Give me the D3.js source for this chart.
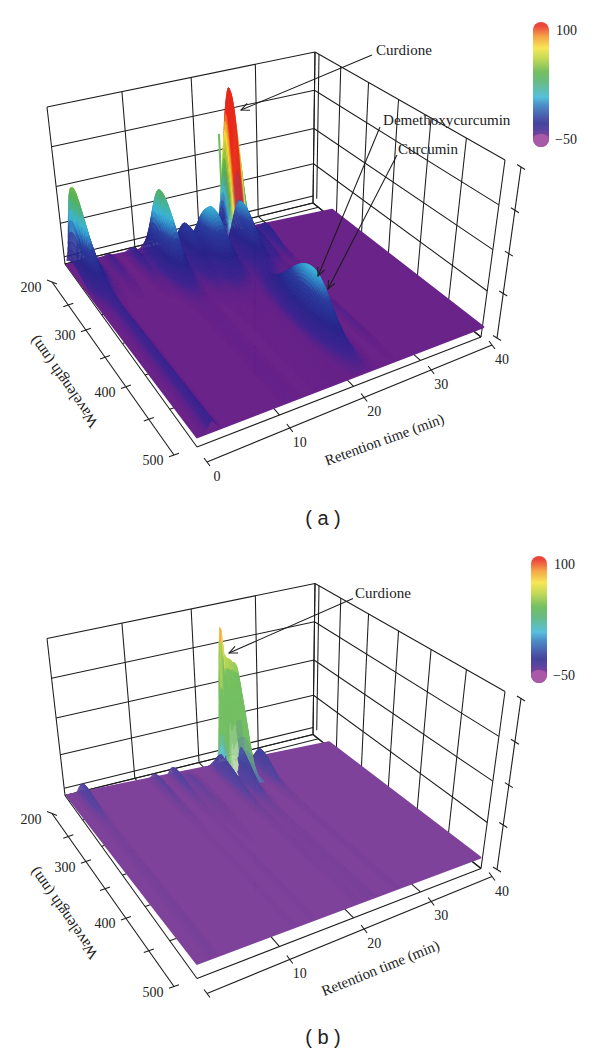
<!DOCTYPE html>
<html>
<head>
<meta charset="utf-8">
<script src="https://cdn.jsdelivr.net/npm/d3@7"></script>
<style>
  body { margin: 0; background: #fff; }
  svg { display: block; }
  text { font-family: "Liberation Serif", serif; fill: #222; }
</style>
</head>
<body>
<svg id="chart" width="600" height="1054"></svg>
<script>
// axis values
const timeGrid = [0, 10, 20, 30, 40]
const wavelengthGrid = [200, 250, 300, 350, 400, 450, 500]
const wavelengthLabels = [200, 300, 400, 500]
const valueGrid = [-50, -11, 24, 62, 100]
const colorbarLabels = [100, -50]

// colour bar stops, value -> colour, and where each sits down the bar
const colorValues = [-40, -34, -22, -6, 2, 10, 26, 36, 50, 64, 76, 88]
const colorStops = ['#6a2389', '#3d2590', '#27268c', '#2c3f9f', '#2f7fc0', '#3cb6d8', '#4fb070', '#5cb548', '#b4d03c', '#f4e33a', '#f59a2a', '#e8281c']
const colorbarOffsets = [0.92, 0.86, 0.81, 0.76, 0.66, 0.6, 0.48, 0.4, 0.3, 0.21, 0.12, 0.03]

// peaks of panel a
const aTime = [0.9, 1.6, 1.5, 10.8, 14, 15.7, 16.9, 21.7, 21.4, 24, 26.1, 20.2, 25, 5, 8, 10]
const aWavelength = [212, 225, 225, 235, 232, 240, 250, 222, 245, 240, 232, 410, 400, 215, 215, 215]
const aHeight = [62, 8, 24, 68, 30, 14, 48, 148, 46, 14, 14, 50, 3, 5, 8, 6]
const aTimeWidth = [0.4, 0.4, 0.9, 0.85, 0.7, 0.5, 1.1, 1, 0.95, 0.7, 0.4, 0.85, 0.35, 0.4, 0.4, 0.4]
const aWlAfter = [30, 30, 26, 30, 34, 34, 28, 9, 30, 30, 30, 34, 40, 30, 30, 30]
const aWlBefore = [12, 20, 14, 16, 14, 14, 16, 10, 14, 14, 12, 45, 30, 12, 12, 12]
const aTail = [0, 1, 0, 0.008, 0.008, 0.008, 0.008, 0, 0.008, 0.008, 0, 0, 0, 0, 0, 0]
const aHold = [7]
const aSpikeTime = [20]
const aSpikeWavelength = [222]
const aSpikeHeight = [105]

// peaks of panel b
const bTime = [1.8, 11.3, 13.8, 20, 20.65, 20.9, 21.9, 22.9, 23.6, 21.8, 25.7, 15.5]
const bWavelength = [212, 212, 212, 222, 222, 222, 222, 222, 222, 235, 230, 225]
const bHeight = [12, 6, 10, 18, 58, 90, 95, 78, 34, 32, 20, 4]
const bTimeWidth = [0.35, 0.35, 0.3, 0.4, 0.1, 0.45, 0.55, 0.45, 0.3, 0.5, 0.4, 0.6]
const bWlAfter = [28, 40, 30, 40, 10, 10, 12, 12, 14, 28, 26, 45]
const bWlBefore = [12, 12, 12, 12, 8, 8, 10, 10, 10, 12, 12, 12]
const bTail = [0.1, 0.05, 0.05, 0.04, 0, 0, 0, 0, 0, 0.03, 0.03, 0.04]
const bHold = [4, 5, 6, 7, 8]

const floorQuad = [[65, 264], [313, 203], [481, 337], [197, 447]]
const topQuad = [[47, 107], [315, 52], [505, 160], [189, 257]]
const wlAxisEnds = [[52, 282], [174, 455]]
const timeAxisEnds = [[207, 462], [492, 345]]
const valueAxisEnds = [[497, 338], [521, 167]]

const svg = d3.select('#chart')
const defs = svg.append('defs')
const uScale = d3.scaleLinear().domain([0, 40]).range([0, 1])
const vScale = d3.scaleLinear().domain([200, 500]).range([0, 1])
const zScale = d3.scaleLinear().domain([-50, 100]).range([0, 1])
const baseValue = -40

const lineGen = d3.line()

// unit square to quad (perspective)
const quadMap = (q) => {
  const [[x0, y0], [x1, y1], [x2, y2], [x3, y3]] = q
  const sx = x0 - x1 + x2 - x3, sy = y0 - y1 + y2 - y3
  const dx1 = x1 - x2, dx2 = x3 - x2, dy1 = y1 - y2, dy2 = y3 - y2
  const det = dx1 * dy2 - dx2 * dy1
  const g = (sx * dy2 - dx2 * sy) / det
  const h = (dx1 * sy - sx * dy1) / det
  const a = x1 - x0 + g * x1, b = x3 - x0 + h * x3
  const d = y1 - y0 + g * y1, e = y3 - y0 + h * y3
  return (u, v) => {
    const w = g * u + h * v + 1
    return [(a * u + b * v + x0) / w, (d * u + e * v + y0) / w]
  }
}

const floorAt = quadMap(floorQuad)
const topAt = quadMap(topQuad)
const boxPoint = (t, wl, val) => {
  const f = floorAt(uScale(t), vScale(wl))
  const p = topAt(uScale(t), vScale(wl))
  const z = zScale(val)
  return [f[0] + (p[0] - f[0]) * z, f[1] + (p[1] - f[1]) * z]
}

const lerp = (a, b, f) => [a[0] + (b[0] - a[0]) * f, a[1] + (b[1] - a[1]) * f]
// how far along an edge of the floor a value sits, perspective included
const edgeFraction = (start, end, p) => Math.hypot(p[0] - start[0], p[1] - start[1]) / Math.hypot(end[0] - start[0], end[1] - start[1])

const colorScale = d3.scaleLinear().domain(colorValues).range(colorStops).interpolate(d3.interpolateRgb).clamp(true)

const drawBox = (g) => {
  const frame = g.append('g').attr('fill', 'none').attr('stroke', '#1c1c1c').attr('stroke-width', 1.05)
  const seg = (a, b) => frame.append('path').attr('d', lineGen([a, b]))

  valueGrid.forEach(val => {
    seg(boxPoint(0, 200, val), boxPoint(40, 200, val))
    seg(boxPoint(40, 200, val), boxPoint(40, 500, val))
  })
  timeGrid.forEach(t => {
    seg(boxPoint(t, 200, -50), boxPoint(t, 200, 100))
    seg(boxPoint(t, 200, -50), boxPoint(t, 500, -50))
  })
  wavelengthGrid.forEach(wl => {
    seg(boxPoint(40, wl, -50), boxPoint(40, wl, 100))
    seg(boxPoint(0, wl, -50), boxPoint(40, wl, -50))
  })
  // second lines just in front of the back corner
  seg(boxPoint(40, 208, -43), boxPoint(40, 208, 100))
  seg(boxPoint(0, 200, -43), boxPoint(40, 200, -43))
  seg(boxPoint(0, 212, -50), boxPoint(40, 212, -50))
}

const drawAxes = (g, timeLabels, timeTitle) => {
  const ax = g.append('g').attr('fill', 'none').attr('stroke', '#1c1c1c').attr('stroke-width', 1.1)
  const seg = (a, b) => ax.append('path').attr('d', lineGen([a, b]))
  seg(wlAxisEnds[0], wlAxisEnds[1])
  seg(timeAxisEnds[0], timeAxisEnds[1])
  seg(valueAxisEnds[0], valueAxisEnds[1])

  const text = (x, y, s, size = 14) => g.append('text').attr('x', x).attr('y', y)
    .attr('text-anchor', 'middle').attr('font-size', size).text(s)

  wavelengthGrid.forEach((wl, i) => {
    const f = edgeFraction(floorQuad[0], floorQuad[3], floorAt(0, vScale(wl)))
    const p = lerp(wlAxisEnds[0], wlAxisEnds[1], f)
    const slope = i === 0 ? 0.4 : -0.35
    seg([p[0] - 5, p[1] - 5 * slope], [p[0] + 5, p[1] + 5 * slope])
    if (wavelengthLabels.includes(wl)) text(p[0] - 21, p[1] + 10, wl)
  })
  timeGrid.forEach(t => {
    const f = edgeFraction(floorQuad[3], floorQuad[2], floorAt(uScale(t), 1))
    const p = lerp(timeAxisEnds[0], timeAxisEnds[1], f)
    seg([p[0] - 3, p[1] - 4], [p[0] + 3, p[1] + 4])
    if (timeLabels.includes(t)) text(p[0] + 10, p[1] + 19, t)
  })
  valueGrid.forEach(val => {
    const p = lerp(valueAxisEnds[0], valueAxisEnds[1], zScale(val))
    seg([p[0] - 4, p[1] - 2.5], [p[0] + 4, p[1] + 2.5])
  })

  g.append('text').attr('transform', 'translate(65,381) rotate(-125)')
    .attr('text-anchor', 'middle').attr('dominant-baseline', 'middle').attr('font-size', 15.5).text('Wavelength (nm)')
  g.append('text').attr('transform', `translate(${timeTitle[0]},${timeTitle[1]}) rotate(${timeTitle[2]})`)
    .attr('text-anchor', 'middle').attr('dominant-baseline', 'middle').attr('font-size', 15).text('Retention time (min)')
}

const drawSurface = (g, panel) => {
  const surfaceAt = quadMap(panel.surface)
  const tone = c => panel.wash ? d3.interpolateRgb(c, '#fff')(panel.wash) : c

  const evaluate = (t, wl) => {
    let other = 0, holdTop = 0, holdSum = 0, holdSpec = 0
    panel.time.forEach((t0, i) => {
      const dt = (t - t0) / panel.timeWidth[i]
      if (Math.abs(dt) > 4) return
      const gt = Math.exp(-0.5 * dt * dt)
      const dw = wl - panel.wavelength[i]
      const w = dw < 0 ? panel.wlBefore[i] : panel.wlAfter[i]
      let spec = Math.exp(-0.5 * dw * dw / (w * w))
      if (dw > 0) spec = spec * (1 - panel.tail[i]) + panel.tail[i]
      const h = panel.height[i] * gt * spec
      if (panel.hold.includes(i)) {
        holdSum += h
        holdTop += panel.height[i] * gt
        holdSpec = Math.max(holdSpec, spec)
      } else other += h
    })
    return { sum: Math.max(other, holdSum), other, holdTop, holdSum, holdSpec }
  }

  const point = (t, wl, h) => {
    const s = surfaceAt(uScale(t), vScale(wl))
    const f = floorAt(uScale(t), vScale(wl))
    const p = topAt(uScale(t), vScale(wl))
    const z = h / 150
    return [s[0] + (p[0] - f[0]) * z, s[1] + (p[1] - f[1]) * z]
  }

  const fillFor = (t, wl) => {
    const e = evaluate(t, wl)
    if (e.holdSum > e.other && e.holdSpec > 0.02) {
      // tall peak: colour runs in vertical stripes down its face
      const col = colorScale(baseValue + panel.holdColor(e.holdSum, e.holdTop))
      const fade = Math.min(1, Math.max(0, (panel.fadeStart - e.holdSpec) / panel.fadeStart))
      return tone(d3.interpolateRgb(col, panel.fade(t, e.holdTop))(fade))
    }
    return tone(colorScale(baseValue + e.other))
  }

  // thin spike behind the main peak
  panel.spikeTime.forEach((t, i) => {
    const wl = panel.spikeWavelength[i]
    const foot = point(t, wl, 22), tip = point(t, wl, panel.spikeHeight[i])
    const id = 'spike' + panel.caption.charAt(2) + i
    const lg = defs.append('linearGradient').attr('id', id).attr('gradientUnits', 'userSpaceOnUse')
      .attr('x1', tip[0]).attr('y1', tip[1]).attr('x2', foot[0]).attr('y2', foot[1])
    lg.append('stop').attr('offset', 0).attr('stop-color', '#6cbf58')
    lg.append('stop').attr('offset', 0.6).attr('stop-color', '#6cbf58')
    lg.append('stop').attr('offset', 1).attr('stop-color', '#dfeccc')
    g.append('path').attr('d', `M${foot[0]},${foot[1]}L${tip[0] + 0.01},${tip[1]}`)
      .attr('stroke', `url(#${id})`).attr('stroke-width', 2).attr('fill', 'none')
  })

  // flat sheet first
  g.append('path')
    .attr('d', lineGen(panel.surface) + 'Z')
    .attr('fill', tone(colorStops[0]))
    .attr('stroke', tone(colorStops[0]))
    .attr('stroke-width', 2.5)
    .attr('stroke-linejoin', 'round')

  const stepT = 0.1, stepW = 3
  const times = d3.range(0, 400).map(i => 40 - (i + 1) * stepT)
  const waves = d3.range(0, 100).map(i => 200 + i * stepW)
  const quads = []
  times.forEach(t => {
    waves.forEach(wl => {
      const hs = [[t, wl], [t + stepT, wl], [t + stepT, wl + stepW], [t, wl + stepW]]
        .map(c => evaluate(c[0], c[1]).sum)
      if (d3.max(hs) < 0.2) return
      quads.push({
        d: [point(t, wl, hs[0]), point(t + stepT, wl, hs[1]), point(t + stepT, wl + stepW, hs[2]), point(t, wl + stepW, hs[3])],
        c: fillFor(t + stepT / 2, wl + stepW / 2)
      })
    })
  })
  g.append('g').selectAll('path').data(quads).join('path')
    .attr('d', d => 'M' + d.d.map(p => p[0].toFixed(1) + ',' + p[1].toFixed(1)).join('L') + 'Z')
    .attr('fill', d => d.c)
    .attr('stroke', d => d.c)
    .attr('stroke-width', 0.35)
}

const drawArrow = (g, from, to) => {
  const a = g.append('g').attr('fill', 'none').attr('stroke', '#1c1c1c').attr('stroke-width', 1.05)
  a.append('path').attr('d', lineGen([from, to]))
  const ang = Math.atan2(from[1] - to[1], from[0] - to[0])
  const head = [ang - 0.42, ang + 0.42].map(b => [to[0] + 9 * Math.cos(b), to[1] + 9 * Math.sin(b)])
  a.append('path').attr('d', lineGen([head[0], to, head[1]]))
}

const drawColorbar = (g, id, x, y0, y1) => {
  const w = 16
  const lg = defs.append('linearGradient').attr('id', id).attr('x1', 0).attr('x2', 0).attr('y1', 0).attr('y2', 1)
  colorValues.slice().reverse().forEach((val, i) => {
    lg.append('stop').attr('offset', colorbarOffsets[colorValues.length - 1 - i])
      .attr('stop-color', d3.interpolateRgb(colorScale(val), '#fff')(0.14))
  })
  g.append('rect').attr('x', x).attr('y', y0).attr('width', w).attr('height', y1 - y0)
    .attr('rx', w / 2).attr('ry', w / 2).attr('fill', `url(#${id})`)
  g.append('path')
    .attr('d', `M${x},${y1 - w / 2} A${w / 2},${w / 3} 0 0 1 ${x + w},${y1 - w / 2} A${w / 2},${w / 2} 0 0 1 ${x},${y1 - w / 2} Z`)
    .attr('fill', '#a85aa8')
  g.append('text').attr('x', x + 23).attr('y', y0 + 13).attr('font-size', 14).text(colorbarLabels[0])
  g.append('text').attr('x', x + 22).attr('y', y1 - 3).attr('font-size', 14).text('\u2212' + Math.abs(colorbarLabels[1]))
}

const panels = [
  {
    dy: 0,
    surface: [[67, 265], [332, 210], [483, 327], [197, 437]],
    time: aTime, wavelength: aWavelength, height: aHeight, timeWidth: aTimeWidth,
    wlAfter: aWlAfter, wlBefore: aWlBefore, tail: aTail, hold: aHold,
    spikeTime: aSpikeTime, spikeWavelength: aSpikeWavelength, spikeHeight: aSpikeHeight,
    wash: 0, fadeStart: 0.5,
    holdColor: (local, top) => top,
    fade: (t, top) => top > 105 ? '#7c2f90' : '#eef0cf',
    timeLabels: [0, 10, 20, 30, 40], timeTitle: [385, 441, -20],
    bar: [533, 22, 147],
    notes: [
      { s: 'Curdione', x: 376, y: 55, arrows: [[[372, 55], [241, 110]]] },
      { s: 'Demethoxycurcumin', x: 383, y: 125, arrows: [[[380, 127], [318, 276]]] },
      { s: 'Curcumin', x: 398, y: 154, arrows: [[[397, 155], [328, 289]]] }
    ],
    caption: '( a )', captionY: 525
  },
  {
    dy: 531.5,
    surface: [[67, 264], [329, 211], [480, 326], [197, 432]],
    time: bTime, wavelength: bWavelength, height: bHeight, timeWidth: bTimeWidth,
    wlAfter: bWlAfter, wlBefore: bWlBefore, tail: bTail, hold: bHold,
    spikeTime: [], spikeWavelength: [], spikeHeight: [],
    wash: 0.14, fadeStart: 0.55,
    holdColor: (local, top) => top >= 45 ? Math.max(local * 0.82, 76) : top + 30,
    fade: t => t < 21.5 ? '#f4f6e8' : '#3f55a8',
    timeLabels: [10, 20, 30, 40], timeTitle: [381, 438, -22],
    bar: [531, 24.5, 151.5],
    notes: [{ s: 'Curdione', x: 355, y: 66.5, arrows: [[[353, 67], [229, 121.5]]] }],
    caption: '( b )', captionY: 512
  }
]

panels.forEach((panel, i) => {
  const g = svg.append('g').attr('transform', `translate(0,${panel.dy})`)
  drawBox(g)
  drawSurface(g, panel)
  drawAxes(g, panel.timeLabels, panel.timeTitle)
  panel.notes.forEach(n => {
    n.arrows.forEach(a => drawArrow(g, a[0], a[1]))
    g.append('text').attr('x', n.x).attr('y', n.y).attr('font-size', n.s.length > 10 ? 15.1 : 15).text(n.s)
  })
  drawColorbar(g, 'bar' + i, panel.bar[0], panel.bar[1], panel.bar[2])
  g.append('text').attr('x', 323).attr('y', panel.captionY)
    .attr('text-anchor', 'middle').attr('font-size', 20)
    .style('font-family', '"Liberation Sans", sans-serif').text(panel.caption)
})
</script>
</body>
</html>
